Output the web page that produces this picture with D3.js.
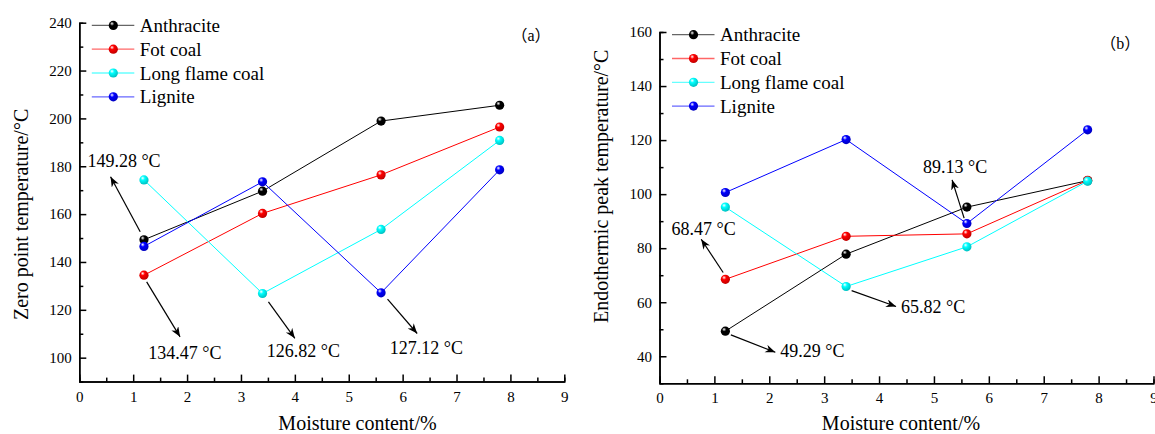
<!DOCTYPE html>
<html>
<head>
<meta charset="utf-8">
<script src="https://cdn.jsdelivr.net/npm/d3@7"></script>
<style>
  body { margin: 0; background: #fff; }
  svg { display: block; }
  .axis path, .axis line { stroke: #000; stroke-width: 1.5; }
</style>
</head>
<body>
<svg id="chart"></svg>
<script>
// moisture content (x) and series names
var moisture = [1.2, 3.4, 5.6, 7.8]
var coalTypes = ["Anthracite", "Fot coal", "Long flame coal", "Lignite"]
var coalColors = ["#000000", "#ff0000", "#00ffff", "#0000ff"]

// (a) zero point temperature
var zeroAnthracite = [149.28, 169.6, 198.9, 205.5]
var zeroFotCoal = [134.47, 160.3, 176.4, 196.4]
var zeroLongFlame = [174.3, 126.82, 153.6, 190.8]
var zeroLignite = [146.5, 173.5, 127.12, 178.5]

// (b) endothermic peak temperature
var peakAnthracite = [49.29, 77.8, 95.2, 105.0]
var peakFotCoal = [68.47, 84.4, 85.3, 105.1]
var peakLongFlame = [95.2, 65.82, 80.5, 104.8]
var peakLignite = [100.6, 120.2, 89.13, 123.8]

// tick values
var xTicks = [0, 1, 2, 3, 4, 5, 6, 7, 8, 9]
var zeroTicks = [100, 120, 140, 160, 180, 200, 220, 240]
var peakTicks = [40, 60, 80, 100, 120, 140, 160]

// annotations, in data units: label position and arrow tail -> head
var zeroNotes = [
  { text: "149.28 °C", x: 0.15, y: 179.8, from: [1.13, 152.6], to: [0.58, 175.6] },
  { text: "134.47 °C", x: 1.28, y: 99.3, from: [1.25, 131.7], to: [1.87, 108.7] },
  { text: "126.82 °C", x: 3.48, y: 100.4, from: [3.51, 123.3], to: [4.0, 108.1] },
  { text: "127.12 °C", x: 5.76, y: 101.5, from: [5.72, 124.5], to: [6.27, 110.1] }
]
var peakNotes = [
  { text: "89.13 °C", x: 4.80, y: 107.8, from: [5.55, 91.1], to: [5.33, 105.3] },
  { text: "68.47 °C", x: 0.22, y: 84.7, from: [1.16, 71.0], to: [0.76, 83.3] },
  { text: "65.82 °C", x: 4.40, y: 56.1, from: [3.50, 64.3], to: [4.31, 58.4] },
  { text: "49.29 °C", x: 2.20, y: 39.6, from: [1.30, 47.9], to: [2.11, 41.5] }
]

// find a Times-like font that is really installed
function pickFont(list) {
  var ctx = document.createElement("canvas").getContext("2d")
  var sample = "Anthracite mwil 0123"
  ctx.font = "20px monospace"
  var w0 = ctx.measureText(sample).width
  for (var f of list) {
    ctx.font = `20px "${f}", monospace`
    if (Math.abs(ctx.measureText(sample).width - w0) > 0.5) return `"${f}"`
  }
  return "serif"
}
var serifFont = pickFont(["Liberation Serif", "Tinos", "Times New Roman", "Nimbus Roman", "DejaVu Serif", "Noto Serif"])
var fontStack = serifFont + ", 'Noto Sans CJK SC', serif"

var svg = d3.select("#chart").attr("width", 1155).attr("height", 434)
svg.append("rect").attr("width", 1155).attr("height", 434).attr("fill", "#fff")

var defs = svg.append("defs")

// glossy ball gradients
coalColors.forEach((c, i) => {
  var g = defs.append("radialGradient")
    .attr("id", "ball" + i)
    .attr("cx", "40%").attr("cy", "35%").attr("r", "65%")
    .attr("fx", "35%").attr("fy", "30%")
  g.append("stop").attr("offset", "0%").attr("stop-color", "#fff")
  g.append("stop").attr("offset", "35%").attr("stop-color", c)
  g.append("stop").attr("offset", "100%").attr("stop-color", d3.color(c).darker(0.8))
})

defs.append("marker")
  .attr("id", "arrow")
  .attr("markerUnits", "userSpaceOnUse")
  .attr("markerWidth", 12).attr("markerHeight", 10)
  .attr("refX", 10).attr("refY", 4)
  .attr("orient", "auto")
  .append("path")
  .attr("d", "M0,0 L10,4 L0,8 L3,4 Z")
  .attr("fill", "#000")

function drawPanel(opt) {
  var g = svg.append("g")

  var x = d3.scaleLinear().domain([0, 9]).range([opt.left, opt.right])
  var y = d3.scaleLinear().domain(opt.yDomain).range([opt.bottom, opt.top])

  // minor ticks
  g.append("g").attr("class", "axis")
    .attr("transform", `translate(0,${opt.bottom})`)
    .call(d3.axisBottom(x).tickValues(d3.range(0.5, 9, 1)).tickSize(-4).tickFormat(""))
  g.append("g").attr("class", "axis")
    .attr("transform", `translate(${opt.left},0)`)
    .call(d3.axisLeft(y).tickValues(opt.minor).tickSize(-4).tickFormat(""))

  // major ticks
  g.append("g").attr("class", "axis")
    .attr("transform", `translate(0,${opt.bottom})`)
    .call(d3.axisBottom(x).tickValues(xTicks).tickSize(-7).tickSizeOuter(0).tickPadding(9.5).tickFormat(d3.format("d")))
  g.append("g").attr("class", "axis")
    .attr("transform", `translate(${opt.left},0)`)
    .call(d3.axisLeft(y).tickValues(opt.ticks).tickSize(-7).tickSizeOuter(0).tickPadding(7.5).tickFormat(d3.format("d")))

  g.selectAll(".axis text").style("font-size", "15px")

  // axis titles
  g.append("text")
    .attr("x", opt.xTitleX).attr("y", 430)
    .attr("text-anchor", "middle")
    .style("font-size", "20px")
    .text("Moisture content/%")
  g.append("text")
    .attr("transform", `translate(${opt.yTitleX},${opt.yTitleY}) rotate(-90)`)
    .attr("text-anchor", "start")
    .style("font-size", "20px")
    .text(opt.yTitle)

  // series
  var line = d3.line().x((d, i) => x(moisture[i])).y(d => y(d))
  opt.series.forEach((s, k) => {
    g.append("path")
      .datum(s)
      .attr("d", line)
      .attr("fill", "none")
      .attr("stroke", coalColors[k])
      .attr("stroke-width", 1)
  })
  opt.series.forEach((s, k) => {
    g.selectAll(null).data(s).enter().append("circle")
      .attr("cx", (d, i) => x(moisture[i]))
      .attr("cy", d => y(d))
      .attr("r", 4.6)
      .attr("fill", `url(#ball${k})`)
  })

  // legend
  var leg = g.append("g")
  coalTypes.forEach((name, k) => {
    var ly = opt.top + 2.7 + k * 23.8
    leg.append("line")
      .attr("x1", opt.left + 12.5).attr("x2", opt.left + 55)
      .attr("y1", ly).attr("y2", ly)
      .attr("stroke", coalColors[k])
      .attr("stroke-opacity", 0.6)
      .attr("stroke-width", 1.3)
    leg.append("circle")
      .attr("cx", opt.left + 34).attr("cy", ly).attr("r", 4.6)
      .attr("fill", `url(#ball${k})`)
    leg.append("text")
      .attr("x", opt.left + 60.5).attr("y", ly).attr("dy", "0.35em")
      .style("font-size", "19px")
      .text(name)
  })

  // annotations
  opt.notes.forEach(n => {
    g.append("line")
      .attr("x1", x(n.from[0])).attr("y1", y(n.from[1]))
      .attr("x2", x(n.to[0])).attr("y2", y(n.to[1]))
      .attr("stroke", "#000").attr("stroke-width", 1.2)
      .attr("marker-end", "url(#arrow)")
    g.append("text")
      .attr("x", x(n.x)).attr("y", y(n.y))
      .style("font-size", "18px")
      .text(n.text)
  })

  // panel tag with full-width brackets
  var tag = g.append("text").attr("class", "tag")
    .attr("x", x(opt.tag.x)).attr("y", y(opt.tag.y)).attr("dy", "0.35em")
    .style("font-size", "16px")
  tag.append("tspan").attr("class", "cjk").text("（")
  tag.append("tspan").text(opt.tag.text)
  tag.append("tspan").attr("class", "cjk").text("）")
}

drawPanel({
  left: 79.3, right: 564.3, top: 22.7, bottom: 381.6,
  yDomain: [90, 240], ticks: zeroTicks, minor: d3.range(110, 240, 20),
  series: [zeroAnthracite, zeroFotCoal, zeroLongFlame, zeroLignite],
  yTitle: "Zero point temperature/°C", yTitleX: 27.5, yTitleY: 320,
  xTitleX: 357.5,
  notes: zeroNotes,
  tag: { text: "a", x: 8.02, y: 234.8 }
})

drawPanel({
  left: 659.5, right: 1153.5, top: 32, bottom: 383.3,
  yDomain: [30, 160], ticks: peakTicks, minor: d3.range(50, 160, 20),
  series: [peakAnthracite, peakFotCoal, peakLongFlame, peakLignite],
  yTitle: "Endothermic peak temperature/°C", yTitleX: 608.3, yTitleY: 323,
  xTitleX: 901,
  notes: peakNotes,
  tag: { text: "b", x: 8.03, y: 155.8 }
})

svg.selectAll("text").attr("font-family", null).style("font-family", fontStack).style("fill", "#000")
svg.selectAll(".axis").attr("font-family", null)
svg.selectAll("tspan.cjk").style("font-family", "'Noto Sans CJK SC', sans-serif")
</script>
</body>
</html>
